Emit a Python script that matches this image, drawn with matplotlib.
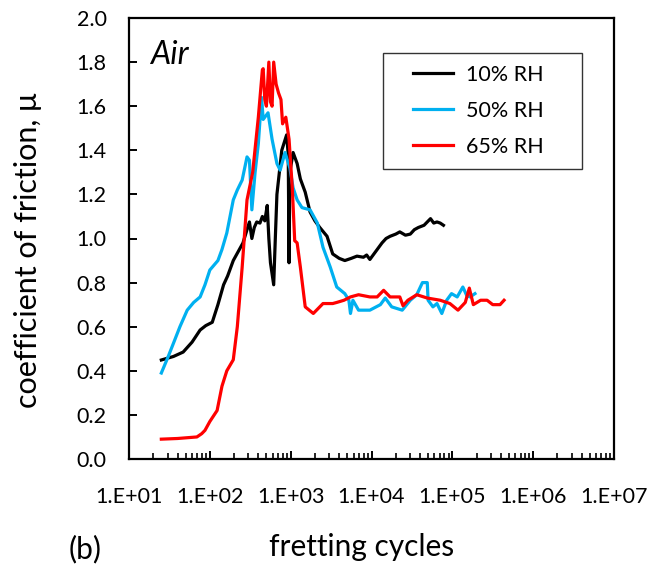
import matplotlib
matplotlib.use("Agg")
import matplotlib.pyplot as plt
from matplotlib.ticker import FixedLocator, LogLocator, NullFormatter
from matplotlib.legend_handler import HandlerLine2D
from matplotlib.lines import Line2D
import numpy as np

plt.rcParams['font.family'] = ['Lato', 'DejaVu Sans']

# log10(fretting cycles) and coefficient of friction
rh10_logn = [1.40, 1.55, 1.67, 1.78, 1.88, 1.95, 2.03, 2.10, 2.17, 2.22, 2.29, 2.35,
             2.41, 2.46, 2.49, 2.52, 2.55, 2.58, 2.62, 2.65, 2.68, 2.71, 2.73, 2.75,
             2.79, 2.81, 2.83, 2.86, 2.89, 2.95, 2.97, 2.98, 2.99, 3.03, 3.08, 3.12,
             3.15, 3.18, 3.24, 3.30, 3.36, 3.45, 3.52, 3.60, 3.67, 3.75, 3.82, 3.90,
             3.94, 3.98, 4.05, 4.13, 4.18, 4.23, 4.30, 4.35, 4.42, 4.48, 4.53, 4.58,
             4.65, 4.73, 4.77, 4.81, 4.85, 4.89]
rh10_mu = [0.449, 0.465, 0.485, 0.53, 0.585, 0.605, 0.62, 0.70, 0.79, 0.83, 0.90, 0.94,
           0.98, 1.04, 1.075, 1.00, 1.05, 1.075, 1.07, 1.10, 1.08, 1.15, 1.00, 0.89,
           0.79, 1.00, 1.20, 1.30, 1.40, 1.47, 1.38, 0.89, 1.30, 1.39, 1.34, 1.27,
           1.24, 1.21, 1.12, 1.08, 1.05, 1.01, 0.93, 0.91, 0.90, 0.91, 0.92, 0.915,
           0.925, 0.905, 0.94, 0.98, 1.00, 1.01, 1.02, 1.03, 1.015, 1.02, 1.04, 1.05,
           1.06, 1.09, 1.07, 1.075, 1.07, 1.06]

rh50_logn = [1.40, 1.48, 1.55, 1.63, 1.72, 1.80, 1.88, 1.94, 2.00, 2.10, 2.15, 2.21,
             2.29, 2.34, 2.40, 2.46, 2.49, 2.52, 2.56, 2.60, 2.64, 2.66, 2.72, 2.77,
             2.83, 2.87, 2.93, 2.99, 3.03, 3.08, 3.14, 3.24, 3.33, 3.40, 3.49, 3.57,
             3.67, 3.72, 3.74, 3.77, 3.84, 3.98, 4.11, 4.17, 4.25, 4.38, 4.48, 4.56,
             4.63, 4.69, 4.70, 4.76, 4.81, 4.87, 4.93, 4.99, 5.06, 5.13, 5.18, 5.22, 5.28]
rh50_mu = [0.39, 0.46, 0.525, 0.60, 0.675, 0.71, 0.735, 0.79, 0.857, 0.90, 0.95, 1.025,
           1.175, 1.22, 1.265, 1.37, 1.355, 1.13, 1.30, 1.43, 1.64, 1.54, 1.57, 1.45,
           1.34, 1.31, 1.39, 1.32, 1.23, 1.175, 1.14, 1.13, 1.07, 0.96, 0.87, 0.78,
           0.75, 0.72, 0.66, 0.72, 0.675, 0.675, 0.70, 0.73, 0.69, 0.675, 0.72, 0.745,
           0.80, 0.80, 0.72, 0.69, 0.705, 0.66, 0.72, 0.75, 0.735, 0.78, 0.74, 0.735, 0.75]

rh65_logn = [1.40, 1.60, 1.84, 1.90, 1.94, 2.00, 2.09, 2.15, 2.21, 2.29, 2.34, 2.40,
             2.46, 2.53, 2.60, 2.65, 2.66, 2.68, 2.70, 2.73, 2.75, 2.77, 2.79, 2.82,
             2.85, 2.88, 2.90, 2.94, 2.98, 3.02, 3.05, 3.08, 3.12, 3.18, 3.28, 3.40,
             3.52, 3.57, 3.66, 3.74, 3.84, 3.98, 4.07, 4.15, 4.23, 4.35, 4.39, 4.45,
             4.56, 4.69, 4.85, 4.97, 5.07, 5.16, 5.21, 5.26, 5.35, 5.43, 5.50, 5.59, 5.64]
rh65_mu = [0.09, 0.093, 0.10, 0.115, 0.13, 0.17, 0.22, 0.33, 0.40, 0.45, 0.60, 0.87,
           1.175, 1.30, 1.55, 1.765, 1.77, 1.63, 1.60, 1.80, 1.62, 1.60, 1.80, 1.70,
           1.66, 1.63, 1.52, 1.55, 1.45, 1.23, 0.99, 0.98, 0.87, 0.69, 0.66, 0.705,
           0.705, 0.71, 0.72, 0.735, 0.745, 0.735, 0.735, 0.765, 0.735, 0.735, 0.695, 0.72,
           0.745, 0.73, 0.72, 0.705, 0.675, 0.71, 0.775, 0.70, 0.72, 0.72, 0.70, 0.70, 0.72]

xticks = [1e1, 1e2, 1e3, 1e4, 1e5, 1e6, 1e7]
xtick_labels = ["1.E+01", "1.E+02", "1.E+03", "1.E+04", "1.E+05", "1.E+06", "1.E+07"]
yticks = [0.0, 0.2, 0.4, 0.6, 0.8, 1.0, 1.2, 1.4, 1.6, 1.8, 2.0]

W, H = 651, 572
fig = plt.figure(figsize=(W/100, H/100), dpi=100)
ax = fig.add_axes([129/W, 1-459/H, 485/W, 441/H])

lw = 2.3
ax.plot(10**np.array(rh10_logn), rh10_mu, color='black', lw=lw, label='10% RH')
ax.plot(10**np.array(rh50_logn), rh50_mu, color='#00B0F0', lw=lw, label='50% RH')
ax.plot(10**np.array(rh65_logn), rh65_mu, color='#FF0000', lw=lw, label='65% RH')

ax.set_xscale('log')
ax.set_xlim(1e1, 1e7)
ax.set_ylim(0, 2.0)
ax.xaxis.set_major_locator(FixedLocator(xticks))
ax.set_xticklabels(xtick_labels)
ax.xaxis.set_minor_locator(LogLocator(base=10, subs=np.arange(2, 10)))
ax.xaxis.set_minor_formatter(NullFormatter())
ax.set_yticks(yticks)
ax.set_yticklabels([f"{v:.1f}" for v in yticks])

for s in ax.spines.values():
    s.set_linewidth(1.6)
ax.tick_params(axis='both', which='major', direction='in', length=6, width=1.4,
               labelsize=15.5, colors='black')
ax.tick_params(axis='x', which='major', pad=20)
ax.tick_params(axis='y', which='major', pad=16)
ax.tick_params(axis='x', which='minor', direction='in', length=4, width=1.2)

ax.set_ylabel("coefficient of friction, μ", fontsize=22)
ax.yaxis.set_label_coords((42-129)/485, 0.474)
ax.set_xlabel("fretting cycles", fontsize=21.5)
ax.xaxis.set_label_coords(0.48, (459-533)/441)

ax.text((150-129)/485, (459-55)/441, "Air", transform=ax.transAxes, fontsize=23,
        style='italic', va='center', ha='left')
fig.text(85/W, 1-549/H, "(b)", fontsize=21.5, ha='center', va='center')

# legend box: 383..582 px wide, 53..167 px tall
fs = 15.5
fs_px = fs*100/72
bpad = 0.55
xpad = (413 - (383 + bpad*fs_px))/fs_px
hl = xpad + 40/fs_px
leg = ax.legend(loc='upper left',
                bbox_to_anchor=((383-129)/485, (459-53)/441, (582-383)/485, 0),
                mode='expand', fontsize=fs, frameon=True, fancybox=False,
                edgecolor='black', handlelength=hl, labelspacing=0.74,
                borderpad=bpad, handletextpad=13/fs_px, borderaxespad=0,
                handler_map={Line2D: HandlerLine2D(xpad=xpad)})
leg.get_frame().set_linewidth(1.0)

fig.savefig("out.png", dpi=100)
